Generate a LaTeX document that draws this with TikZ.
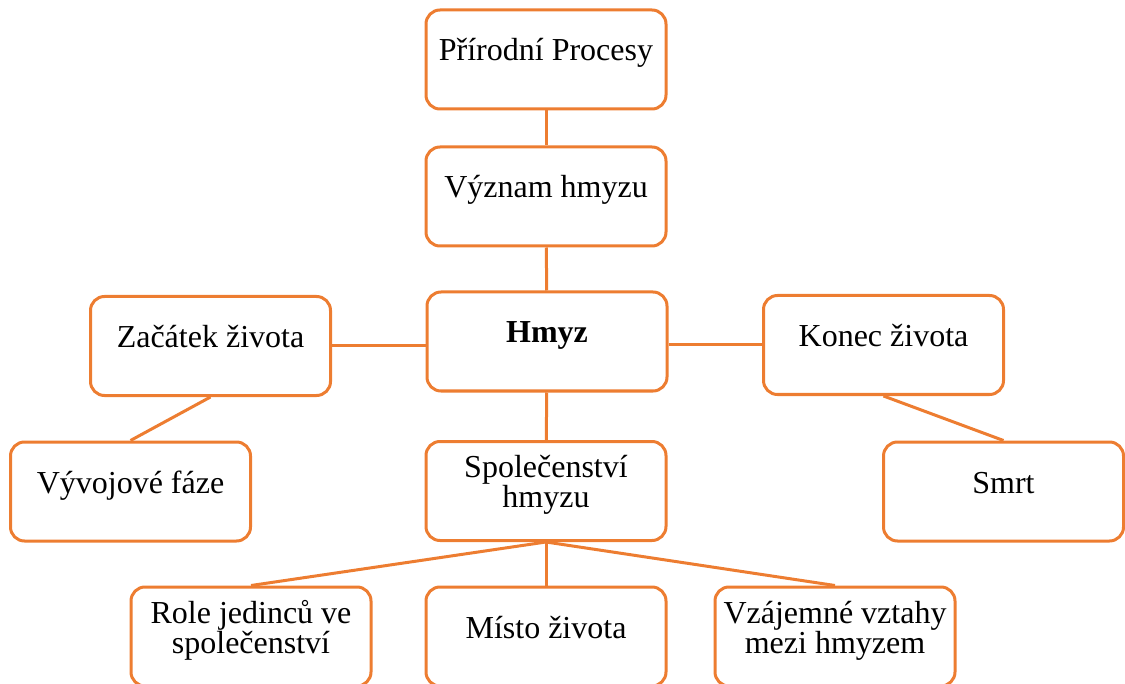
\documentclass[tikz,border=0pt]{standalone}
\usepackage{fontspec}
\setmainfont{Liberation Serif}
\definecolor{boxorange}{HTML}{ED7D31}
\lineskiplimit=-100pt

\begin{document}
\begin{tikzpicture}[x=0.5pt,y=-0.5pt,
box/.style = {draw=boxorange, line width=1.5pt, rounded corners=7pt,
  minimum width=120pt, minimum height=49.5pt, inner sep=0pt, align=center,
  font=\fontsize{16}{15}\selectfont, text height=8pt, text depth=6.5pt},
boxtwo/.style = {box, text height=23pt},   % two lines of text
link/.style = {draw=boxorange, line width=1.5pt}]
\useasboundingbox (0,0) rectangle (1125,684);

\node[box] (proc) at (546,59.5) {Přírodní Procesy};
\node[box] (vyznam) at (546,196.5) {Význam hmyzu};
\node[box] (hmyz) at (547,341.5) {\textbf{Hmyz}};
\node[box] (zacatek) at (210.5,346) {Začátek života};
\node[box] (konec) at (883.5,345) {Konec života};
\node[box] (vyvoj) at (130.5,491.5) {Vývojové fáze};
\node[box] (smrt) at (1003.5,491.5) {Smrt};
\node[boxtwo] (spol) at (546,491) {Společenství\\hmyzu};
\node[boxtwo] (role) at (251,636.5) {Role jedinců ve\\společenství};
\node[box] (misto) at (546,636.5) {Místo života};
\node[boxtwo] (vztahy) at (835,636.5) {Vzájemné vztahy\\mezi hmyzem};

\draw[link] (proc) -- (vyznam);
\draw[link] (vyznam) -- (hmyz);
\draw[link] (hmyz) -- (spol);
\draw[link] (zacatek.east) -- (zacatek.east -| hmyz.west);
\draw[link] (konec.west) -- (konec.west -| hmyz.east);
\draw[link] (zacatek.south) -- (vyvoj.north);
\draw[link] (konec.south) -- (smrt.north);
\foreach \kid in {role,misto,vztahy}
  \draw[link] (spol.south) -- (\kid.north);
\end{tikzpicture}
\end{document}
